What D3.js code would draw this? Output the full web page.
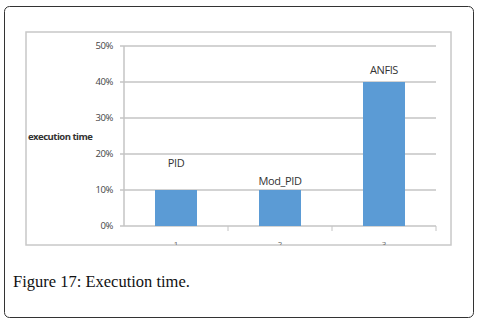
<!DOCTYPE html>
<html><head><meta charset="utf-8">
<script src="https://cdnjs.cloudflare.com/ajax/libs/d3/7.8.5/d3.min.js"></script>
<style>body{margin:0;background:#fff}svg{display:block}</style>
</head><body>
<script>
const categories = ["1", "2", "3"];
const seriesNames = ["PID", "Mod_PID", "ANFIS"];
const values = [0.10, 0.10, 0.40];
const yTicks = [0, 0.1, 0.2, 0.3, 0.4, 0.5];

const W = 480, H = 325;
const svg = d3.select("body").append("svg").attr("width", W).attr("height", H);

// outer figure box
svg.append("rect").attr("x", 4.5).attr("y", 6.5).attr("width", 469).attr("height", 311)
  .attr("rx", 5).attr("fill", "#fff").attr("stroke", "#333").attr("stroke-width", 1);

// inner chart frame
const frame = {x: 26, y: 32, w: 425, h: 213};
svg.append("defs").append("clipPath").attr("id", "fc").append("rect")
  .attr("x", frame.x).attr("y", frame.y).attr("width", frame.w).attr("height", frame.h);
svg.append("rect").attr("x", frame.x).attr("y", frame.y).attr("width", frame.w).attr("height", frame.h)
  .attr("fill", "#fff").attr("stroke", "#c8c8c8").attr("stroke-width", 1.5);

const g = svg.append("g").attr("clip-path", "url(#fc)");
const x0 = 124, x1 = 436, yTop = 46, yBot = 226;
const x = d3.scaleBand().domain(categories).range([x0, x1]).padding(0);
const y = d3.scaleLinear().domain([0, 0.5]).range([yBot, yTop]);

// gridlines
g.selectAll(".grid").data(yTicks).enter().append("line")
  .attr("x1", x0 - 4).attr("x2", x1).attr("y1", d => y(d)).attr("y2", d => y(d))
  .attr("stroke", "#c4c4c4").attr("stroke-width", 1.5);
// y axis line
g.append("line").attr("x1", x0).attr("x2", x0).attr("y1", yTop).attr("y2", yBot)
  .attr("stroke", "#c4c4c4").attr("stroke-width", 1.5);
// y tick labels
g.selectAll(".yl").data(yTicks).enter().append("text")
  .attr("x", 113).attr("y", d => y(d)).attr("dy", "0.35em").attr("text-anchor", "end")
  .attr("font-family", "Open Sans, sans-serif").attr("font-size", 9.5).attr("fill", "#444")
  .attr("letter-spacing", -0.4)
  .text(d3.format(".0%"));

// x ticks
const bounds = categories.map(c => x(c) + x.bandwidth());
g.selectAll(".xt").data(bounds).enter().append("line")
  .attr("x1", d => d).attr("x2", d => d).attr("y1", yBot).attr("y2", yBot + 5)
  .attr("stroke", "#c4c4c4").attr("stroke-width", 1);
g.selectAll(".xl").data(categories).enter().append("text")
  .attr("x", d => x(d) + x.bandwidth() / 2).attr("y", 247)
  .attr("text-anchor", "middle").attr("font-family", "Open Sans, sans-serif")
  .attr("font-size", 8).attr("fill", "#666").text(d => d);

// bars
const bw = 42;
g.selectAll(".bar").data(values).enter().append("rect")
  .attr("x", (d, i) => x(categories[i]) + x.bandwidth() / 2 - bw / 2)
  .attr("width", bw)
  .attr("y", d => y(d)).attr("height", d => yBot - y(d))
  .attr("fill", "#5b9bd5");

// bar labels
const labelY = [163, 181, 70];
g.selectAll(".bl").data(seriesNames).enter().append("text")
  .attr("x", (d, i) => x(categories[i]) + x.bandwidth() / 2)
  .attr("y", (d, i) => labelY[i]).attr("dy", "0.35em")
  .attr("text-anchor", "middle").attr("font-family", "Open Sans, sans-serif")
  .attr("font-size", 11).attr("fill", "#333").attr("letter-spacing", -0.4).text(d => d);

// axis title
g.append("text").attr("x", 28).attr("y", 137).attr("dy", "0.35em")
  .attr("font-family", "Open Sans, sans-serif").attr("font-size", 9.5).attr("font-weight", "bold")
  .attr("fill", "#333").attr("letter-spacing", -0.5).text("execution time");

// caption
svg.append("text").attr("x", 13).attr("y", 287)
  .attr("font-family", "Liberation Serif, serif").attr("font-size", 16.5).attr("fill", "#111")
  .text("Figure 17: Execution time.");
</script>
</body></html>
